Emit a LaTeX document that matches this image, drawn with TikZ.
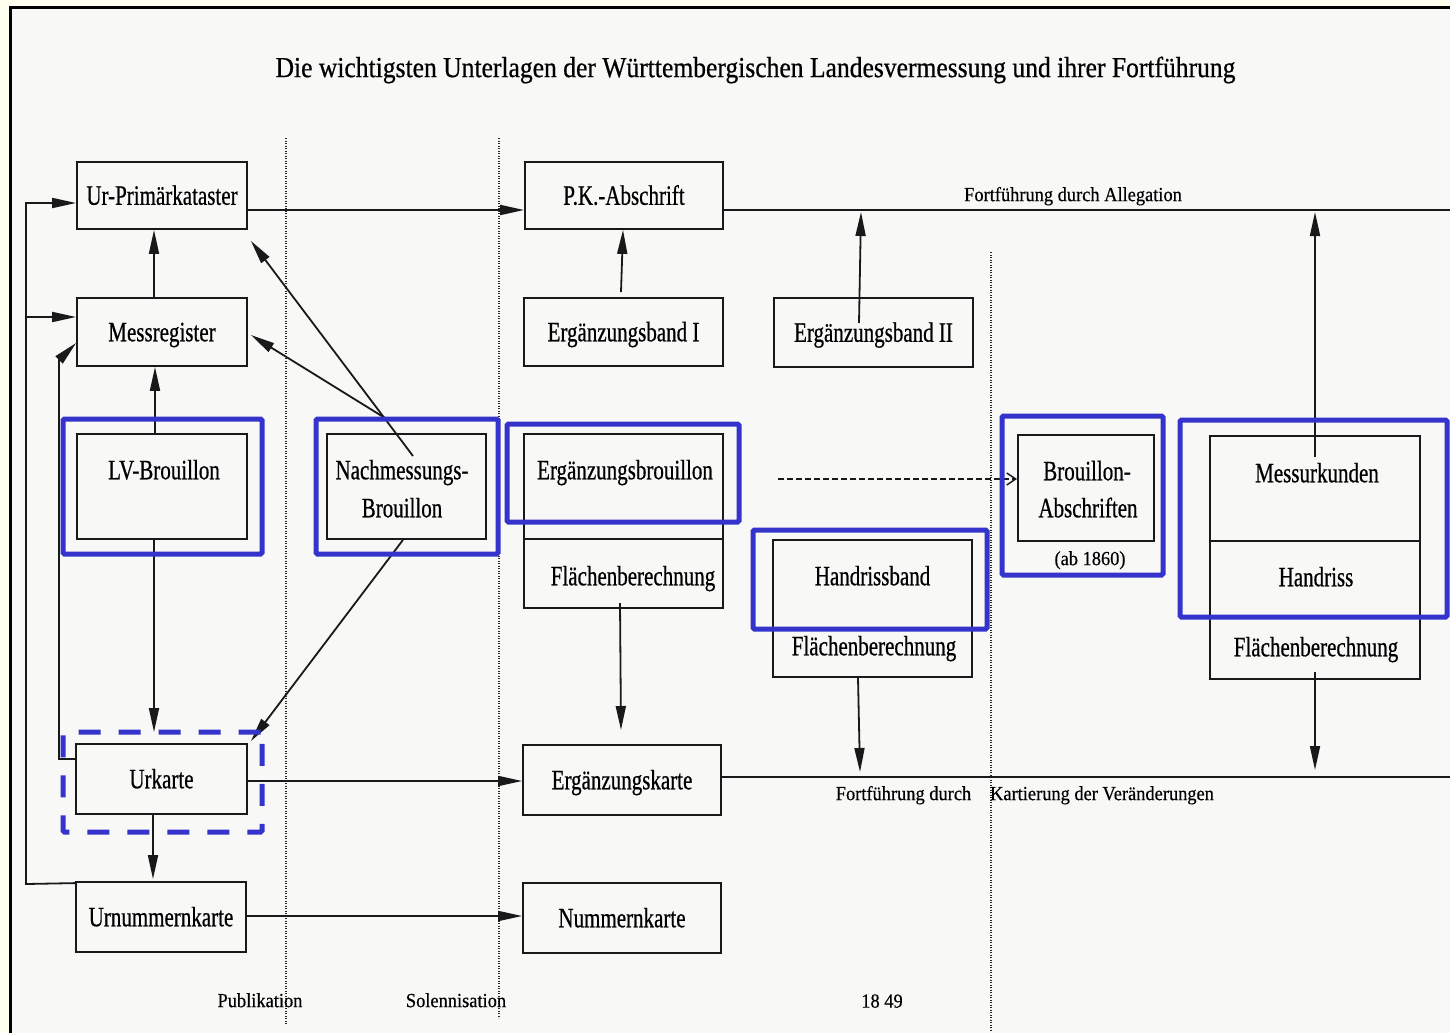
\documentclass[tikz,border=0pt]{standalone}
\usepackage{fontspec}
\setmainfont{Liberation Serif}
\newfontfamily\boxfont{Liberation Serif}[FakeStretch=0.75,FakeBold=0.6]
\newfontfamily\headfont{Liberation Serif}[FakeStretch=0.882,FakeBold=0.6]
\newfontfamily\notefont{Liberation Serif}[FakeStretch=0.92,FakeBold=0.4]
\usetikzlibrary{arrows.meta,calc}
\definecolor{paper}{RGB}{248,248,246}
\definecolor{margin}{RGB}{255,255,240}
\definecolor{mark}{RGB}{52,52,204}

\begin{document}
\begin{tikzpicture}[x=1pt,y=-1pt,
  box/.style={draw=black!90, line width=1.8pt, rectangle, inner sep=0pt},
  frame/.style={draw=mark, line width=5pt, rectangle, inner sep=0pt, rounded corners=1.5pt},
  dframe/.style={frame, dash pattern=on 22pt off 18pt},
  lbl/.style={font=\boxfont\fontsize{28}{33}\selectfont, inner sep=0pt, text height=18.5pt, text depth=0pt},
  note/.style={font=\notefont\fontsize{20}{24}\selectfont, inner sep=0pt, text height=13.2pt, text depth=0pt},
  conn/.style={line width=1.8pt, black!90},
  arr/.style={conn, -{Triangle[length=24pt,width=10pt]}},
  darr/.style={line width=1.5pt, black!90, dash pattern=on 6pt off 3pt, -{Straight Barb[length=9pt,width=12pt]}},
  sep/.style={line width=1.3pt, dash pattern=on 1.2pt off 1.3pt, black!85},
]
% page, margin strip and border
\useasboundingbox (0,0) rectangle (1450,1033);
\fill[margin] (0,0) rectangle (1450,1033);
\fill[paper] (11,8) rectangle (1450,1033);
\draw[line width=3.3pt] (10.8,1033) -- (10.8,7.7) -- (1450,7.7);

% title
\node[font=\headfont\fontsize{29}{34}\selectfont, inner sep=0pt, text height=19.2pt, text depth=0pt]
  (title) at (755.5,67.5) {Die wichtigsten Unterlagen der Württembergischen Landesvermessung und ihrer Fortführung};

% period separators
\draw[sep] (286,138) -- (286,1025);
\draw[sep] (499,138) -- (499,1018);
\draw[sep] (991,252) -- (991,1030);

% left column
\node[box,lbl,minimum width=170pt,minimum height=67pt] (ur) at (162,195.5) {Ur-Primärkataster};
\node[box,lbl,minimum width=170pt,minimum height=68pt] (mr) at (162,332) {Messregister};
\node[box,minimum width=170pt,minimum height=105pt] (lv) at (162,486.5) {};
\node[lbl] (lvt) at (164,470) {LV-Brouillon};
\node[box,lbl,minimum width=171pt,minimum height=70pt] (urk) at (161.5,779) {Urkarte};
\node[box,lbl,minimum width=170pt,minimum height=70pt] (urn) at (161,917) {Urnummernkarte};

% Nachmessung
\node[box,minimum width=159pt,minimum height=105pt] (nach) at (406.5,486.5) {};
\node[lbl] (nacht1) at (402,470) {Nachmessungs-};
\node[lbl] (nacht2) at (402,508) {Brouillon};

% second column
\node[box,lbl,minimum width=198pt,minimum height=67pt] (pk) at (624,195.5) {P.K.-Abschrift};
\node[box,lbl,minimum width=199pt,minimum height=68pt] (eb1) at (623.5,332) {Ergänzungsband I};
\node[box,minimum width=199pt,minimum height=174pt] (ergb) at (623.5,521) {};
\draw[line width=1.8pt, black!90] (ergb.west |- 0,539) -- (ergb.east |- 0,539);
\node[lbl] (ergbt1) at (625,470) {Ergänzungsbrouillon};
\node[lbl] (ergbt2) at (633,576) {Flächenberechnung};
\node[box,lbl,minimum width=198pt,minimum height=70pt] (ergk) at (622,780) {Ergänzungskarte};
\node[box,lbl,minimum width=198pt,minimum height=70pt] (num) at (622,918) {Nummernkarte};

% third column
\node[box,lbl,minimum width=199pt,minimum height=69pt] (eb2) at (873.5,332.5) {Ergänzungsband II};
\node[box,minimum width=199pt,minimum height=137pt] (hrb) at (872.5,608.5) {};
\node[lbl] (hrbt1) at (872.5,576) {Handrissband};
\node[lbl] (hrbt2) at (874,646) {Flächenberechnung};

% after 1849
\node[box,minimum width=136pt,minimum height=106pt] (ba) at (1086,488) {};
\node[lbl] (bat1) at (1087,471) {Brouillon-};
\node[lbl] (bat2) at (1088,508) {Abschriften};
\node[note] (bat3) at (1090,558.5) {(ab 1860)};
\node[box,minimum width=210pt,minimum height=243pt] (mu) at (1315,557.5) {};
\draw[line width=1.8pt, black!90] (mu.west |- 0,541) -- (mu.east |- 0,541);
\node[lbl] (mut1) at (1317,473) {Messurkunden};
\node[lbl] (mut2) at (1316,577) {Handriss};
\node[lbl] (mut3) at (1316,647) {Flächenberechnung};

% free ends of the continuation lines
\coordinate (allegEnd) at (1450,210);
\coordinate (kartEnd) at (1450,777);

% connectors, left column
\draw[arr] (mr.north -| 154,0) -- (ur.south -| 154,0);
\draw[arr] (lv.north -| 155,0) -- (mr.south -| 155,0);
\draw[arr] (lv.south -| 154,0) -- (154,732);
\draw[arr] (urk.south -| 153,0) -- ($(urn.north -| 153,0)+(0,-2)$);
\draw[arr] ($(urn.north west)+(0,2)$) -- (26,884) -- (26,203) -- (ur.west |- 0,203);
\draw[arr] (26,317) -- (mr.west |- 0,317);
\draw[arr] (urk.west |- 0,759) -- (59,759) -- (59,360) -- (mr.west |- 0,343);

% connectors from the Nachmessung
\coordinate (nachA) at (385,418);
\coordinate (nachB) at (413,456);
\draw[arr] (nachA) -- ($(mr.east)+(3,3)$);
\draw[arr] (nachB) -- ($(ur.south east)+(3,11)$);
\draw[arr] (nach.south -| 403,0) -- ($(urk.north east)+(3,-2)$);

% horizontal transfers
\draw[arr] (ur.east |- 0,210) -- (pk.west |- 0,210);
\draw[conn] (pk.east |- 0,210) -- (allegEnd);
\draw[arr] (urk.east |- 0,781) -- (ergk.west |- 0,781);
\draw[conn] (ergk.east |- 0,777) -- (kartEnd);
\draw[arr] (urn.east |- 0,916) -- (num.west |- 0,916);

% vertical feeds
\draw[arr] ($(eb1.north)+(-2.5,-5)$) -- (pk.south -| 623,0);
\draw[arr] (859,323) -- (861,212);
\draw[arr] (1315,457) -- (1315,212);
\draw[arr] (620,603) -- (621,730);
\draw[arr] (858,678) -- (860,772);
\draw[arr] (1315,672) -- (1315,770);
\draw[darr] (778,479) -- (ba.west |- 0,479);

% notes
\node[note] (alleg) at (1073,194.5) {Fortführung durch Allegation};
\node[note] (fdurch) at (903.5,793.5) {Fortführung durch};
\node[note] (kart) at (1102,793.5) {Kartierung der Veränderungen};
\node[note] (publ) at (260,1000.5) {Publikation};
\node[note] (solenn) at (456,1000.5) {Solennisation};
\node[note] (jahr) at (882,1001) {18 49};

% highlight frames
\node[frame,minimum width=199pt,minimum height=135pt] (f1) at (162.5,486.5) {};
\node[frame,minimum width=182pt,minimum height=135pt] (f2) at (407,486.5) {};
\node[frame,minimum width=232pt,minimum height=98pt] (f3) at (623,473) {};
\node[frame,minimum width=234pt,minimum height=99pt] (f4) at (870,579.5) {};
\node[frame,minimum width=161pt,minimum height=159pt] (f5) at (1082.5,495.5) {};
\node[frame,minimum width=267pt,minimum height=197pt] (f6) at (1313.5,518.5) {};
\node[dframe,minimum width=199pt,minimum height=100pt] (f7) at (162.5,782) {};
\end{tikzpicture}
\end{document}
